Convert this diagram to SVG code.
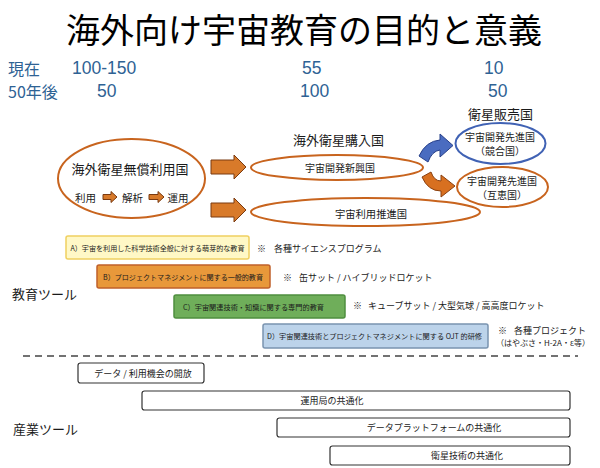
<svg xmlns="http://www.w3.org/2000/svg" width="600" height="468" viewBox="0 0 600 468">
<style>
text{font-family:"Noto Sans CJK JP","Noto Sans",sans-serif;fill:#1a1a1a;dominant-baseline:central}
.num{font-family:"Liberation Sans","Noto Sans CJK JP",sans-serif;font-size:17.5px;fill:#2e6294}
.jpnum{font-family:"Noto Sans CJK JP",sans-serif;font-size:16px;fill:#2e6294}
.c{text-anchor:middle}
.oval{fill:#fff;stroke:#c8641e;stroke-width:2}
.big{fill:#d87a2a;stroke:#7a3a10;stroke-width:1}
.box{stroke-width:1.5}
.bt{font-size:7.3px;text-anchor:middle}
.note{font-size:9px}
.ind{fill:#fff;stroke:#333;stroke-width:1.2}
.it{font-size:9px;text-anchor:middle}
.lbl{font-size:13px}
.adv{font-size:10px;text-anchor:middle}
</style>
<rect width="600" height="468" fill="#fff"/>
<g id="title"><text x="304" y="28" class="c" style="font-size:34px;fill:#000">海外向け宇宙教育の目的と意義</text></g>
<g id="counts">
<text x="8" y="68" class="jpnum">現在</text>
<text x="72" y="68" class="num">100-150</text>
<text x="302" y="68" class="num">55</text>
<text x="484" y="68" class="num">10</text>
<text x="8" y="91" class="jpnum">50年後</text>
<text x="97" y="91" class="num">50</text>
<text x="300" y="91" class="num">100</text>
<text x="488" y="91" class="num">50</text>
</g>
<g id="free-users">
<ellipse cx="131.5" cy="178.5" rx="73.5" ry="39.5" class="oval"/>
<text x="130" y="168" class="c" style="font-size:13px">海外衛星無償利用国</text>
<text x="85.5" y="197" class="c" style="font-size:10.5px">利用</text>
<path d="M103,194.5 H111 V191.5 L117,197 L111,202.5 V199.5 H103 Z" class="big"/>
<text x="132.5" y="197" class="c" style="font-size:10.5px">解析</text>
<path d="M149,194.5 H158 V191.5 L164,197 L158,202.5 V199.5 H149 Z" class="big"/>
<text x="178" y="197" class="c" style="font-size:10.5px">運用</text>
</g>
<g id="buyers-label"><text x="293" y="139" style="font-size:13px">海外衛星購入国</text></g>
<g id="emerging">
<ellipse cx="337" cy="167.5" rx="86" ry="12.5" class="oval"/>
<text x="340" y="167" class="c" style="font-size:10px">宇宙開発新興国</text>
</g>
<g id="promoting">
<ellipse cx="365.5" cy="212" rx="114.5" ry="14" class="oval"/>
<text x="371" y="213" class="c" style="font-size:10.3px">宇宙利用推進国</text>
</g>
<g id="sellers-label"><text x="500.5" y="113" class="c" style="font-size:13px">衛星販売国</text></g>
<g id="advanced-competitor">
<ellipse cx="500.5" cy="143.5" rx="45" ry="20.5" style="fill:#fff;stroke:#4062b4;stroke-width:2"/>
<text x="500" y="136.5" class="adv">宇宙開発先進国</text>
<text x="500" y="150.5" class="adv">（競合国）</text>
</g>
<g id="advanced-partner">
<ellipse cx="502.5" cy="187" rx="45.5" ry="20" class="oval"/>
<text x="502" y="180" class="adv">宇宙開発先進国</text>
<text x="502" y="194" class="adv">（互恵国）</text>
</g>
<g id="connectors">
<path d="M211,160 H234 V155 L246,167 L234,179 V174 H211 Z" class="big"/>
<path d="M211,203 H234 V198 L246,210 L234,222 V217 H211 Z" class="big"/>
<path d="M419,156 Q426,141 440,140 L440,134 L453,145.5 L440,157 L440,150 Q432,151 428,162 Z" style="fill:#4a6cc0;stroke:#27408a;stroke-width:1"/>
<path d="M422,177 Q428,191 441,191 L441,197 L455,186 L441,175 L441,181 Q434,181 431,172 Z" style="fill:#d87020;stroke:#8a4010;stroke-width:1"/>
<line x1="23" y1="356" x2="578" y2="356" style="stroke:#444;stroke-width:1.5;stroke-dasharray:7 5"/>
</g>
<g id="edu-label"><text x="12" y="293" class="lbl">教育ツール</text></g>
<g id="edu-a">
<rect x="66" y="236" width="183" height="23" rx="2" class="box" style="fill:#fff8c6;stroke:#f0d060"/>
<text x="157.5" y="247.5" class="bt" textLength="174" lengthAdjust="spacingAndGlyphs">A）宇宙を利用した科学技術全般に対する萌芽的な教育</text>
<text x="257" y="248" class="note">※</text><text x="274" y="248" class="note">各種サイエンスプログラム</text>
</g>
<g id="edu-b">
<rect x="97" y="265" width="173" height="23" rx="2" class="box" style="fill:#e8983a;stroke:#c0602a"/>
<text x="183" y="276.5" class="bt" textLength="160" lengthAdjust="spacingAndGlyphs">B）プロジェクトマネジメントに関する一般的教育</text>
<text x="283" y="277" class="note">※</text><text x="299" y="277" class="note">缶サット / ハイブリッドロケット</text>
</g>
<g id="edu-c">
<rect x="174" y="295" width="171" height="23" rx="2" class="box" style="fill:#6fae5a;stroke:#4f8f3f"/>
<text x="253.5" y="306.5" class="bt" textLength="141" lengthAdjust="spacingAndGlyphs">C）宇宙関連技術・知識に関する専門的教育</text>
<text x="353" y="305" class="note">※</text><text x="368" y="305" class="note">キューブサット / 大型気球 / 高高度ロケット</text>
</g>
<g id="edu-d">
<rect x="263" y="324" width="225" height="24" rx="2" class="box" style="fill:#bcd3ea;stroke:#7a94b0"/>
<text x="374.5" y="336" class="bt" textLength="215" lengthAdjust="spacingAndGlyphs">D）宇宙関連技術とプロジェクトマネジメントに関する OJT 的研修</text>
<text x="498" y="330" class="note">※</text><text x="514" y="330" class="note">各種プロジェクト</text>
<text x="496" y="342" style="font-size:8px">（はやぶさ・H-2A・ε等）</text>
</g>
<g id="ind-label"><text x="13" y="428" class="lbl">産業ツール</text></g>
<g id="ind-1"><rect x="78" y="363" width="126" height="20" rx="2.5" class="ind"/><text x="143" y="373" class="it">データ / 利用機会の開放</text></g>
<g id="ind-2"><rect x="142" y="391" width="428" height="19" rx="2.5" class="ind"/><text x="332" y="400.5" class="it">運用局の共通化</text></g>
<g id="ind-3"><rect x="277" y="418" width="293" height="19" rx="2.5" class="ind"/><text x="434" y="427.5" class="it">データプラットフォームの共通化</text></g>
<g id="ind-4"><rect x="330" y="446" width="240" height="19" rx="2.5" class="ind"/><text x="467" y="455.5" class="it">衛星技術の共通化</text></g>
</svg>
